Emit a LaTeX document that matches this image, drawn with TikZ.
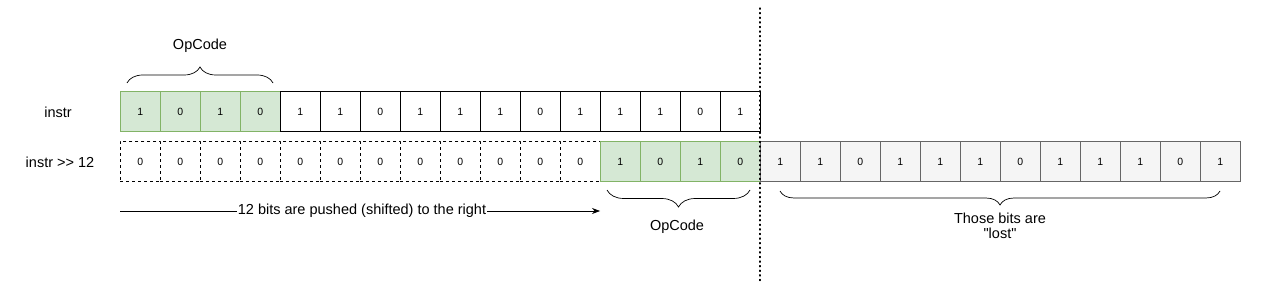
\documentclass[tikz,border=0pt]{standalone}
\usepackage{fontspec}
\setmainfont{Liberation Sans}[Ligatures=TeXOff]
\usetikzlibrary{decorations.pathreplacing,arrows.meta}
\definecolor{gfill}{HTML}{D5E8D4}
\definecolor{gline}{HTML}{82B366}
\definecolor{lfill}{HTML}{F5F5F5}
\definecolor{lline}{HTML}{666666}
\tikzset{
  cell/.style={minimum width=40pt, minimum height=40pt, inner sep=0pt, anchor=north west, font=\fontsize{10.5}{12}\selectfont, line width=0.8pt},
  plain/.style={cell, draw=black, fill=white},
  green/.style={cell, draw=gline, fill=gfill},
  zero/.style={cell, draw=black, fill=white, dashed},
  lost/.style={cell, draw=lline, fill=lfill},
  lbl/.style={font=\fontsize{14.5}{16}\selectfont, inner sep=0pt},
  bracedeco/.style={decorate, decoration={brace, amplitude=#1}, line width=0.7pt},
}
\begin{document}
\begin{tikzpicture}[x=1pt,y=-1pt]
\useasboundingbox (0,0) rectangle (1261,283);
% row 1
\foreach \v [count=\i] in {1,0,1,0,1,1,0,1,1,1,0,1,1,1,0,1}{
  \ifnum\i<5
    \node[green] (a\i) at ({120+40*(\i-1)},91) {\v};
  \else
    \node[plain] (a\i) at ({120+40*(\i-1)},91) {\v};
  \fi
}
% row 2
\foreach \i in {1,...,12}{
  \node[zero] (b\i) at ({120+40*(\i-1)},141) {0};
}
\foreach \v [count=\j] in {1,0,1,0}{
  \pgfmathtruncatemacro{\k}{\j+12}
  \node[green] (b\k) at ({120+40*(\k-1)},141) {\v};
}
\foreach \v [count=\j] in {1,1,0,1,1,1,0,1,1,1,0,1}{
  \pgfmathtruncatemacro{\k}{\j+16}
  \node[lost] (b\k) at ({120+40*(\k-1)},141) {\v};
}
% labels
\node[lbl] (l1) at (58,112) {instr};
\node[lbl] (l2) at (60,162) {instr >{}> 12};
% dotted separator
\coordinate (dtop) at (760,8);
\coordinate (dbot) at (760,283);
\draw[line width=1.2pt, dash pattern=on 1.2pt off 3.4pt, line cap=round] (dtop) -- (dbot);
% top brace
\coordinate (tb1) at (127,83);
\coordinate (tb2) at (273,83);
\draw[bracedeco=16pt] (tb1) -- (tb2);
\node[lbl] (op1) at (200,46) {OpCode};
% arrow
\coordinate (ar1) at (120,211);
\coordinate (ar2) at (600,211);
\draw[-{Stealth[length=8pt,width=6pt]}, line width=0.7pt] (ar1) -- (ar2)
  node[midway, fill=white, inner sep=1pt, font=\fontsize{14.5}{16}\selectfont, xshift=2pt] (atext) {12 bits are pushed (shifted) to the right};
% bottom opcode brace
\coordinate (ob1) at (750,190);
\coordinate (ob2) at (607,190);
\draw[bracedeco=17pt] (ob1) -- (ob2);
\node[lbl] (op2) at (677,227) {OpCode};
% lost brace
\coordinate (lb1) at (1220,191);
\coordinate (lb2) at (780,191);
\draw[bracedeco=14pt] (lb1) -- (lb2);
\node[lbl, align=center, font=\fontsize{14.5}{15.5}\selectfont] (lost) at (1000,226) {Those bits are\\"lost"};
\end{tikzpicture}
\end{document}
